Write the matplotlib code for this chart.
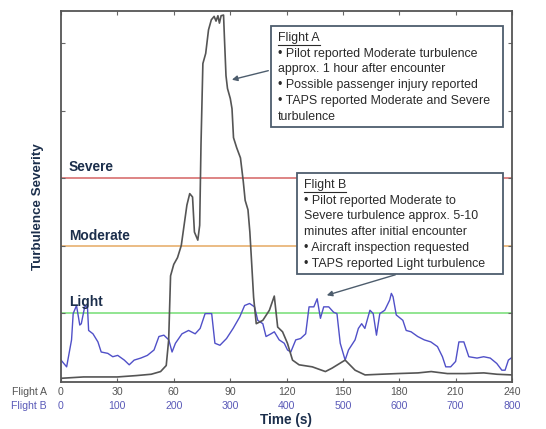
import numpy as np
import matplotlib.pyplot as plt

plt.rcParams['font.family'] = ['Liberation Sans', 'DejaVu Sans']

# Flight A: time (s) and severity
flight_a_t = [0, 12, 30, 40, 48, 53, 56, 57.3, 58.3, 60, 62, 64, 65.5, 67, 68.5, 70, 71,
              72.8, 73.8, 74.5, 75.5, 77, 78.5, 80, 81.5, 82.5, 83.5, 84.3, 85.2, 86.5, 87,
              87.8, 88.6, 90.1, 91, 91.8, 93.5, 95.5, 97, 98, 99.5, 100.5, 101.5, 102.5,
              103.9, 107.4, 110.9, 113.5, 115.3, 117.9, 120.5, 123.2, 126.7, 133.7, 140.7,
              144.2, 151.2, 156.5, 161.8, 170, 179, 190, 197, 205.6, 215, 225, 232, 240]
flight_a_v = [0.03, 0.05, 0.05, 0.07, 0.09, 0.13, 0.22, 0.6, 1.55, 1.72, 1.82, 2.0, 2.3,
              2.6, 2.77, 2.72, 2.2, 2.08, 2.3, 3.5, 4.7, 4.85, 5.2, 5.35, 5.40, 5.33, 5.41,
              5.3, 5.41, 5.42, 5.06, 4.52, 4.33, 4.18, 4.03, 3.6, 3.45, 3.3, 2.95, 2.67,
              2.53, 2.2, 1.72, 1.23, 0.84, 0.89, 1.04, 1.25, 0.79, 0.72, 0.55, 0.3, 0.23,
              0.2, 0.13, 0.18, 0.3, 0.15, 0.08, 0.09, 0.1, 0.11, 0.13, 0.1, 0.1, 0.11,
              0.09, 0.08]

# Flight B: time (s) and severity
flight_b_t = [0, 10, 18.7, 21.6, 27.5, 33.3, 36, 42, 46.8, 49, 56.7, 65.5, 71.3, 83, 91.8,
              100.6, 112.3, 121, 129.8, 141.5, 153.2, 165, 173.7, 182.5, 191.2, 197, 203,
              214.6, 226.3, 238, 246.8, 255.6, 267.3, 273, 281.9, 293.6, 305.3, 317,
              325.7, 334.5, 343.3, 349, 358, 363.7, 372.5, 378.4, 387, 396, 401.8, 407.6,
              416.4, 425, 434, 440, 448.5, 454.4, 460.2, 466, 474.9, 483.6, 489.5, 495.3,
              504, 510, 521.6, 527.5, 533.3, 539, 548, 553.8, 559.6, 565.5, 574.3, 583,
              586, 589, 594.7, 606.4, 612.3, 621, 632.7, 644.4, 656, 667.8, 676.6, 682.5,
              691.2, 700, 705.8, 714.6, 723.4, 738, 749.7, 761.4, 773, 782, 787.7, 793.6,
              800]
flight_b_v = [0.30, 0.2, 0.6, 0.99, 1.11, 0.82, 0.84, 1.09, 1.11, 0.74, 0.69, 0.57, 0.42,
              0.4, 0.35, 0.37, 0.30, 0.23, 0.30, 0.33, 0.37, 0.45, 0.65, 0.67, 0.6, 0.42,
              0.55, 0.69, 0.74, 0.69, 0.77, 0.99, 0.99, 0.55, 0.52, 0.62, 0.77, 0.94, 1.11,
              1.14, 1.09, 0.89, 0.84, 0.65, 0.69, 0.72, 0.6, 0.55, 0.45, 0.42, 0.6, 0.62,
              0.69, 1.09, 1.09, 1.21, 0.92, 1.09, 1.09, 1.01, 0.99, 0.55, 0.3, 0.45, 0.6,
              0.77, 0.84, 0.77, 1.04, 0.99, 0.67, 0.99, 1.04, 1.19, 1.29, 1.24, 0.97, 0.89,
              0.74, 0.72, 0.65, 0.6, 0.57, 0.5, 0.35, 0.2, 0.2, 0.28, 0.57, 0.57, 0.35,
              0.33, 0.35, 0.33, 0.25, 0.15, 0.15, 0.30, 0.34]

levels = ['Light', 'Moderate', 'Severe']
level_vals = [1, 2, 3]
level_colors = ['#7fe07f', '#e8b070', '#d87070']

ticks_a = [0, 30, 60, 90, 120, 150, 180, 210, 240]
ticks_b = [0, 100, 200, 300, 400, 500, 600, 700, 800]

note_a = ['Flight A',
          '\u2022 Pilot reported Moderate turbulence',
          'approx. 1 hour after encounter',
          '\u2022 Possible passenger injury reported',
          '\u2022 TAPS reported Moderate and Severe',
          'turbulence']
note_b = ['Flight B',
          '\u2022 Pilot reported Moderate to',
          'Severe turbulence approx. 5-10',
          'minutes after initial encounter',
          '\u2022 Aircraft inspection requested',
          '\u2022 TAPS reported Light turbulence']

W, H = 546, 429
navy = '#1c2f4c'
fig = plt.figure(figsize=(W / 100, H / 100), dpi=100)
ax = fig.add_axes([61 / W, 1 - 382 / H, 451 / W, 371 / H])


def fp(x, y):
    # pixel position -> figure fraction
    return (x / W, 1 - y / H)


for v, c in zip(level_vals, level_colors):
    ax.axhline(v, color=c, lw=1.2, zorder=1)

scale_b = 240 / 800
ax.plot(np.array(flight_b_t) * scale_b, flight_b_v, color='#5050c8', lw=1.0, zorder=2)
ax.plot(flight_a_t, flight_a_v, color='#555555', lw=1.2, zorder=3)

ax.set_xlim(0, 240)
ax.set_ylim(-0.025, 5.48)
ax.set_xticks(ticks_a)
ax.set_xticklabels([])
ax.set_yticks([1, 2, 3, 4, 5])
ax.set_yticklabels([])
ax.tick_params(direction='in', top=True, right=True, length=3, color='#666666')
for s in ax.spines.values():
    s.set_color('#555555')
    s.set_linewidth(1.3)

# two rows of x tick labels
for ta, tb in zip(ticks_a, ticks_b):
    x = 61 + ta * 451 / 240
    fig.text(*fp(x, 392), str(ta), ha='center', va='center', fontsize=7.6, color='#555555')
    fig.text(*fp(x, 406), str(tb), ha='center', va='center', fontsize=7.6, color='#5a5ab8')
fig.text(*fp(47, 392), 'Flight A', ha='right', va='center', fontsize=7.6, color='#555555')
fig.text(*fp(47, 406), 'Flight B', ha='right', va='center', fontsize=7.6, color='#5a5ab8')

fig.text(*fp(286, 420), 'Time (s)', ha='center', va='center', fontsize=9.8,
         fontweight='bold', color=navy)
fig.text(*fp(38, 207), 'Turbulence Severity', ha='center', va='center', fontsize=9.6,
         fontweight='bold', color=navy, rotation=90)

for name, y in zip(levels, [302, 236, 167]):
    fig.text(*fp(69, y), name, ha='left', va='center', fontsize=9.9,
             fontweight='bold', color=navy)

# annotation boxes
fig.canvas.draw()
renderer = fig.canvas.get_renderer()


def note(lines, x0, y0, x1, y1, ty):
    rect = plt.Rectangle(fp(x0, y1), (x1 - x0) / W, (y1 - y0) / H, transform=fig.transFigure,
                         facecolor='white', edgecolor='#4d5d6d', lw=1.3, zorder=5)
    fig.add_artist(rect)
    for i, line in enumerate(lines):
        t = fig.text(*fp(x0 + 7, ty + i * 15.7), line, ha='left', va='center',
                     fontsize=8.9, color='#2a2a2a', zorder=6)
        if i == 0:
            bb = t.get_window_extent(renderer)
            yy = 1 - (ty + 7) / H
            fig.add_artist(plt.Line2D([bb.x0 / W, bb.x1 / W], [yy, yy],
                                      transform=fig.transFigure, color='#2a2a2a',
                                      lw=0.8, zorder=6))


note(note_a, 271, 26, 503, 127, 38)
note(note_b, 297, 173, 503, 274, 185)

ax.annotate('', xy=(89.5, 4.45), xytext=fp(271, 70), textcoords='figure fraction',
            arrowprops=dict(arrowstyle='-|>', color='#4d5d6d', lw=1.0, mutation_scale=8),
            zorder=7)
ax.annotate('', xy=(140, 1.25), xytext=fp(398, 274), textcoords='figure fraction',
            arrowprops=dict(arrowstyle='-|>', color='#4d5d6d', lw=1.0, mutation_scale=8),
            zorder=7)

fig.savefig('out.png', dpi=100)
